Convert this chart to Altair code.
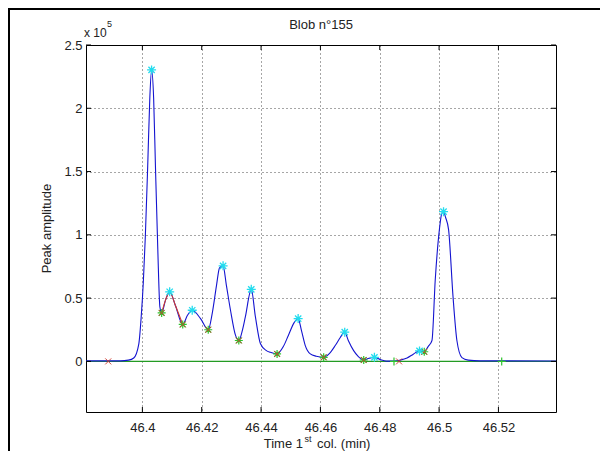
import altair as alt
import pandas as pd

# ---------------- data ----------------
time = [46.3810, 46.3926, 46.3953, 46.3971, 46.3988, 46.3996, 46.4003, 46.4010, 46.4018, 46.4025,
        46.4031, 46.4038, 46.4044, 46.4052, 46.4059, 46.4065, 46.4078, 46.4092, 46.4111, 46.4136,
        46.4152, 46.4168, 46.4196, 46.4222, 46.4236, 46.4250, 46.4260, 46.4272, 46.4283, 46.4297,
        46.4314, 46.4325, 46.4337, 46.4347, 46.4367, 46.4381, 46.4398, 46.4418, 46.4431, 46.4454,
        46.4475, 46.4492, 46.4512, 46.4525, 46.4536, 46.4549, 46.4566, 46.4586, 46.4611, 46.4630,
        46.4650, 46.4667, 46.4682, 46.4694, 46.4712, 46.4728, 46.4746, 46.4761, 46.4782, 46.4802,
        46.4822, 46.4849, 46.4869, 46.4892, 46.4913, 46.4934, 46.4950, 46.4963, 46.4976, 46.4987,
        46.5001, 46.5009, 46.5015, 46.5022, 46.5032, 46.5047, 46.5060, 46.5077, 46.5098, 46.5138,
        46.5394]
amplitude = [400, 400, 960, 2700, 13900, 35100, 61700, 98800, 154600, 207700,
             230300, 207700, 154600, 88200, 43000, 38300, 48400, 55000, 44400, 29200,
             36400, 40400, 33800, 25000, 38800, 60300, 73900, 75500, 60300, 40400,
             20500, 16500, 24500, 35100, 56900, 35100, 13900, 8500, 7200, 5900,
             11700, 20500, 30800, 33800, 24500, 12500, 5900, 4100, 3200, 6100,
             12500, 18900, 23100, 16500, 8500, 3800, 1100, 2300, 3200, 1400,
             200, 200, 1000, 2700, 5700, 8300, 7600, 11700, 16500, 64300,
             104100, 116900, 118300, 113700, 104100, 51000, 16500, 3000, 1000, 400,
             300]

red_time = [46.4065, 46.4078, 46.4092, 46.4111, 46.4136]
red_amp = [38300, 48400, 55000, 44400, 29200]

peak_time = [46.4031, 46.4092, 46.4168, 46.4272, 46.4367, 46.4525, 46.4682, 46.4782, 46.4934, 46.5015]
peak_amp = [230300, 55000, 40400, 75500, 56900, 33800, 23100, 3200, 8300, 118300]

valley_time = [46.4065, 46.4136, 46.4222, 46.4325, 46.4454, 46.4611, 46.4746, 46.4950]
valley_amp = [38300, 29200, 25000, 16500, 5900, 3200, 1100, 7600]

cross_time = [46.3885, 46.4865]
cross_amp = [0, 0]
plus_time = [46.4848, 46.5211]
plus_amp = [0, 0]

x_range = [46.381, 46.5394]
y_range = [-40000, 250000]
baseline_amp = [0, 0]

x_ticks = [46.4, 46.42, 46.44, 46.46, 46.48, 46.5, 46.52]
y_ticks = [0, 50000, 100000, 150000, 200000, 250000]

title_text = "Blob n°155"
ylabel_text = "Peak amplitude"

# ---------------- styling ----------------
W, H = 470, 367
FONT = "Liberation Sans"
TXT = "#222222"
BLUE = "#1414d0"
RED = "#d03a30"
GREEN_LINE = "#239b23"
GREEN_MK = "#2ec42e"
CYAN = "#22dcee"

ASTER = "M-1,0L1,0M0,-1L0,1M-0.7,-0.7L0.7,0.7M-0.7,0.7L0.7,-0.7"
XMARK = "M-1,-1L1,1M-1,1L1,-1"
PLUS = "M-1,0L1,0M0,-1L0,1"

xs = alt.Scale(domain=x_range, nice=False, zero=False)
ys = alt.Scale(domain=y_range, nice=False, zero=False)

x_axis = alt.Axis(values=x_ticks, format=".4~g", grid=True, ticks=False, domain=False,
                  labelFont=FONT, labelFontSize=13, labelColor=TXT, labelPadding=9,
                  gridColor="#000000", gridDash=[1, 3], gridOpacity=0.7, gridWidth=1,
                  title=None, labelOverlap=False, labelFlush=False)
y_axis = alt.Axis(values=y_ticks, labelExpr="datum.value / 100000", grid=True, ticks=False,
                  domain=False, labelFont=FONT, labelFontSize=13, labelColor=TXT, labelPadding=4,
                  gridColor="#000000", gridDash=[1, 3], gridOpacity=0.7, gridWidth=1,
                  title=None, labelOverlap=False, labelFlush=False)


def X():
    return alt.X("t:Q", scale=xs, axis=x_axis)


def Y():
    return alt.Y("v:Q", scale=ys, axis=y_axis)


curve_df = pd.DataFrame({"t": time, "v": amplitude})
red_df = pd.DataFrame({"t": red_time, "v": red_amp})
peak_df = pd.DataFrame({"t": peak_time, "v": peak_amp})
valley_df = pd.DataFrame({"t": valley_time, "v": valley_amp})
cross_df = pd.DataFrame({"t": cross_time, "v": cross_amp})
plus_df = pd.DataFrame({"t": plus_time, "v": plus_amp})
base_df = pd.DataFrame({"t": x_range, "v": baseline_amp})
xt_df = pd.DataFrame({"t": x_ticks})
yt_df = pd.DataFrame({"v": y_ticks})
one = pd.DataFrame({"a": [0]})

baseline = alt.Chart(base_df).mark_line(color=GREEN_LINE, strokeWidth=1.2).encode(x=X(), y=Y())
curve = alt.Chart(curve_df).mark_line(color=BLUE, strokeWidth=1.1, interpolate="monotone").encode(
    x=X(), y=Y())
red_seg = alt.Chart(red_df).mark_line(color=RED, strokeWidth=1.1, interpolate="monotone").encode(
    x=X(), y=Y())
valley_g = alt.Chart(valley_df).mark_point(shape=ASTER, size=64, filled=False, color=GREEN_MK,
                                           strokeWidth=1.2, opacity=1).encode(x=X(), y=Y())
valley_r = alt.Chart(valley_df).mark_point(shape=XMARK, size=36, filled=False, color=RED,
                                           strokeWidth=1.0, opacity=0.9).encode(x=X(), y=Y())
peaks = alt.Chart(peak_df).mark_point(shape=ASTER, size=81, filled=False, color=CYAN,
                                      strokeWidth=1.3, opacity=1).encode(x=X(), y=Y())
crosses = alt.Chart(cross_df).mark_point(shape=XMARK, size=36, filled=False, color=RED,
                                         strokeWidth=1.0, opacity=0.9).encode(x=X(), y=Y())
pluses = alt.Chart(plus_df).mark_point(shape=PLUS, size=64, filled=False, color=GREEN_MK,
                                       strokeWidth=1.2, opacity=1).encode(x=X(), y=Y())

TK = 5
tick_l = alt.Chart(yt_df).mark_rule(color="#000", strokeWidth=1).encode(
    y=Y(), x=alt.value(0), x2=alt.value(TK))
tick_r = alt.Chart(yt_df).mark_rule(color="#000", strokeWidth=1).encode(
    y=Y(), x=alt.value(W - TK), x2=alt.value(W))
tick_b = alt.Chart(xt_df).mark_rule(color="#000", strokeWidth=1).encode(
    x=X(), y=alt.value(H - TK), y2=alt.value(H))
tick_t = alt.Chart(xt_df).mark_rule(color="#000", strokeWidth=1).encode(
    x=X(), y=alt.value(0), y2=alt.value(TK))


def txt(s, x, y, size=13, align="center", angle=0):
    kw = dict(text=s, font=FONT, fontSize=size, color=TXT, align=align, baseline="middle")
    if angle:
        kw["angle"] = angle
    return alt.Chart(one).mark_text(**kw).encode(x=alt.value(x), y=alt.value(y))


title = txt(title_text, 235, -20)
expo = txt("x 10", -2, -12, size=12, align="left")
expo5 = txt("5", 21, -21, size=9, align="left")
ylab = txt(ylabel_text, -39, H / 2, angle=270)
xlab1 = txt("Time 1", 217, 399, align="right")
xlab2 = txt("st", 218.5, 394, size=9, align="left")
xlab3 = txt("col. (min)", 231, 399, align="left")

frame_l = alt.Chart(one).mark_rule(color="#000", strokeWidth=2).encode(
    x=alt.value(-77), y=alt.value(-37), y2=alt.value(410))
frame_t = alt.Chart(one).mark_rule(color="#000", strokeWidth=2).encode(
    y=alt.value(-36), x=alt.value(-78), x2=alt.value(520))

chart = alt.layer(
    baseline, curve, red_seg, valley_g, valley_r, crosses, pluses, peaks,
    tick_l, tick_r, tick_b, tick_t,
    title, expo, expo5, ylab, xlab1, xlab2, xlab3, frame_l, frame_t
).properties(
    width=W, height=H,
    autosize=alt.AutoSizeParams(type="none"),
    padding={"left": 78, "top": 37, "right": 44, "bottom": 39},
    background="#ffffff",
).configure_view(stroke="#000000", strokeWidth=1)

chart.save("out.html", embed_options={"renderer": "svg", "actions": False})
